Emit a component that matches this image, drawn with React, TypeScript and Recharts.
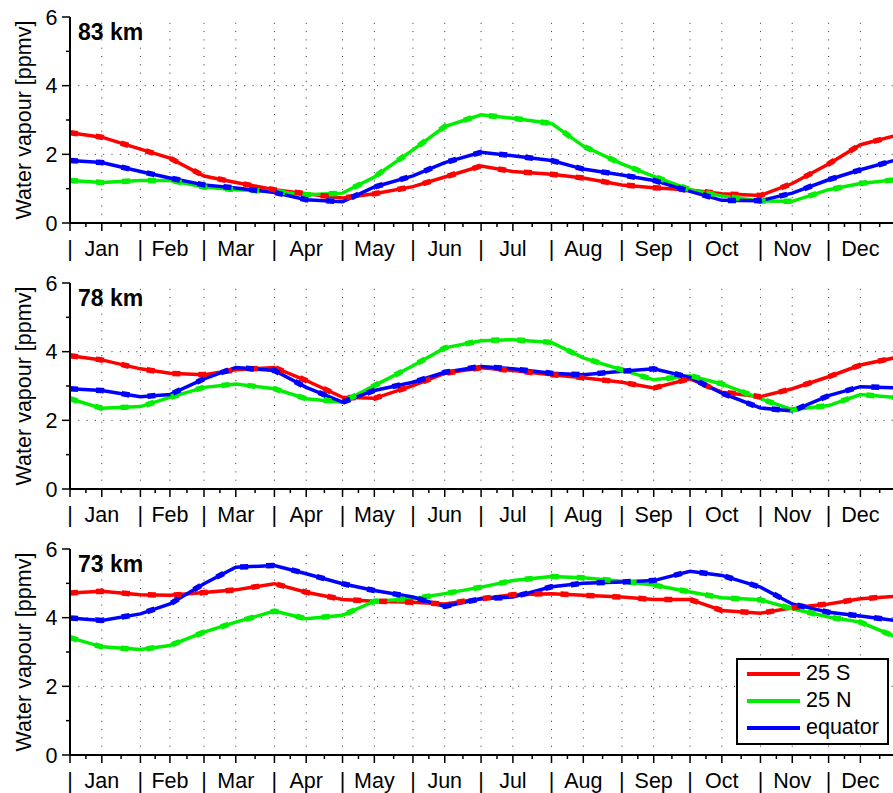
import { LineChart, Line, XAxis, YAxis, ReferenceLine, Legend } from 'recharts';

// day of year for each sample (month start and mid-month)
const DAYS = [0, 14, 31, 44, 59, 73, 90, 104, 120, 134, 151, 165, 181, 195, 212, 226, 243, 257, 273, 287, 304, 318, 334, 348, 365];
const MONTHS = ['Jan', 'Feb', 'Mar', 'Apr', 'May', 'Jun', 'Jul', 'Aug', 'Sep', 'Oct', 'Nov', 'Dec'];
const MONTH_START = [0, 31, 59, 90, 120, 151, 181, 212, 243, 273, 304, 334];
const MONTH_MID = [14, 44, 73, 104, 134, 165, 195, 226, 257, 287, 318, 348];
const Y_TICKS = [0, 1, 2, 3, 4, 5, 6];
const Y_GRID = [2, 4];

// 83 km
const S25_83 = [2.63, 2.5, 2.15, 1.89, 1.37, 1.18, 0.97, 0.85, 0.73, 0.85, 1.06, 1.34, 1.66, 1.5, 1.42, 1.31, 1.11, 1.03, 0.96, 0.85, 0.8, 1.15, 1.72, 2.28, 2.57];
const N25_83 = [1.24, 1.18, 1.24, 1.24, 1.05, 0.97, 0.92, 0.82, 0.87, 1.34, 2.13, 2.81, 3.15, 3.05, 2.9, 2.24, 1.72, 1.36, 0.97, 0.79, 0.64, 0.63, 0.97, 1.15, 1.27];
const EQ_83 = [1.82, 1.76, 1.5, 1.31, 1.11, 1.02, 0.89, 0.68, 0.62, 1.05, 1.37, 1.76, 2.06, 1.96, 1.82, 1.57, 1.4, 1.24, 0.92, 0.66, 0.65, 0.87, 1.26, 1.55, 1.86];

// 78 km
const S25_78 = [3.88, 3.76, 3.5, 3.37, 3.33, 3.47, 3.54, 3.16, 2.67, 2.64, 3.01, 3.37, 3.53, 3.45, 3.33, 3.24, 3.11, 2.94, 3.21, 2.82, 2.69, 2.92, 3.27, 3.61, 3.85];
const N25_78 = [2.63, 2.35, 2.4, 2.67, 2.96, 3.06, 2.92, 2.63, 2.53, 3.01, 3.59, 4.11, 4.32, 4.35, 4.27, 3.82, 3.47, 3.18, 3.3, 3.06, 2.63, 2.31, 2.43, 2.75, 2.66];
const EQ_78 = [2.92, 2.87, 2.69, 2.75, 3.21, 3.54, 3.45, 2.96, 2.53, 2.87, 3.11, 3.4, 3.57, 3.5, 3.37, 3.33, 3.43, 3.5, 3.25, 2.79, 2.36, 2.27, 2.72, 2.98, 2.94];

// 73 km
const S25_73 = [4.72, 4.77, 4.67, 4.65, 4.73, 4.81, 4.99, 4.74, 4.53, 4.48, 4.45, 4.4, 4.55, 4.67, 4.7, 4.65, 4.6, 4.53, 4.53, 4.21, 4.13, 4.29, 4.4, 4.55, 4.63];
const N25_73 = [3.42, 3.15, 3.07, 3.19, 3.58, 3.87, 4.19, 3.97, 4.07, 4.48, 4.55, 4.7, 4.89, 5.08, 5.2, 5.16, 5.06, 4.95, 4.75, 4.58, 4.52, 4.26, 4.02, 3.87, 3.4];
const EQ_73 = [3.99, 3.92, 4.11, 4.4, 4.99, 5.47, 5.52, 5.28, 4.99, 4.79, 4.6, 4.33, 4.55, 4.6, 4.9, 5.0, 5.04, 5.08, 5.35, 5.23, 4.89, 4.4, 4.16, 4.05, 3.9];

const FONT = '"Liberation Sans", Arial, Helvetica, sans-serif';
const FS = 21.5;

const MAJOR = [...MONTH_START, ...MONTH_MID, 365].sort((a, b) => a - b);
const MINOR = MAJOR.slice(1).map((d, i) => (d + MAJOR[i]) / 2);
const X_TICKS = [...MAJOR, ...MINOR].sort((a, b) => a - b);

const SERIES = [
  { key: 's', name: '25 S', color: '#ff0000' },
  { key: 'n', name: '25 N', color: '#00ee00' },
  { key: 'eq', name: 'equator', color: '#0000ff' },
];

const BottomTick = (props: any) => {
  const { x, y, payload } = props;
  const v = payload.value;
  const si = MONTH_START.indexOf(v);
  const mi = MONTH_MID.indexOf(v);
  const major = MAJOR.includes(v);
  return (
    <g>
      <line x1={x} x2={x} y1={y} y2={y + (major ? 8 : 4)} stroke="#000" strokeWidth={1.5} />
      {si >= 0 && (
        <text x={x} y={y + 33} textAnchor="middle" fontFamily={FONT} fontSize={FS} fill="#000">|</text>
      )}
      {mi >= 0 && (
        <text x={x} y={y + 33} textAnchor="middle" fontFamily={FONT} fontSize={FS} fill="#000">{MONTHS[mi]}</text>
      )}
    </g>
  );
};

const TopTick = (props: any) => {
  const { x, y, payload } = props;
  const major = MAJOR.includes(payload.value);
  return <line x1={x} x2={x} y1={y} y2={y - (major ? 8 : 4)} stroke="#000" strokeWidth={1.5} />;
};

const LeftTick = (props: any) => {
  const { x, y, payload } = props;
  const v = payload.value;
  const major = v % 2 === 0;
  return (
    <g>
      <line x1={x - (major ? 8 : 4)} x2={x} y1={y} y2={y} stroke="#000" strokeWidth={1.5} />
      {major && (
        <text x={x - 12.5} y={y} dy="0.36em" textAnchor="end" fontFamily={FONT} fontSize={FS} fill="#000">{v}</text>
      )}
    </g>
  );
};

const YLabel = (props: any) => {
  const vb = props.viewBox || { x: 0, y: 17, width: 70, height: 206 };
  const cx = vb.x + 31;
  const cy = vb.y + vb.height / 2;
  return (
    <text x={cx} y={cy} textAnchor="middle" transform={`rotate(-90, ${cx}, ${cy})`} fontFamily={FONT} fontSize={FS} fill="#000">
      Water vapour [ppmv]
    </text>
  );
};

const LegendBox = (props: any) => {
  const items = (props.payload || [])
    .filter((p: any) => p.type !== 'none')
    .sort((a: any, b: any) => SERIES.findIndex((s) => s.name === a.value) - SERIES.findIndex((s) => s.name === b.value));
  return (
    <div style={{ boxSizing: 'border-box', width: 153, height: 87, border: '2px solid #000', background: '#fff', padding: '0.5px 0 1.5px 9px', fontFamily: FONT, fontSize: FS }}>
      {items.map((p: any) => (
        <div key={p.value} style={{ display: 'flex', alignItems: 'center', height: 27 }}>
          <span style={{ display: 'inline-block', width: 53, height: 3.5, background: p.color, marginRight: 6 }} />
          <span style={{ lineHeight: 1 }}>{p.value}</span>
        </div>
      ))}
    </div>
  );
};

interface PanelProps {
  title: string;
  south: number[];
  north: number[];
  equator: number[];
  legend?: boolean;
}

const Panel = ({ title, south, north, equator, legend }: PanelProps) => {
  const data = DAYS.map((d, i) => ({ day: d, s: south[i], n: north[i], eq: equator[i] }));
  return (
    <div style={{ position: 'relative', width: 905, height: 266 }}>
      <LineChart width={905} height={266} data={data} margin={{ top: 17, right: 6, left: 0, bottom: 0 }} style={{ fontFamily: FONT }}>
        <XAxis
          dataKey="day"
          type="number"
          domain={[0, 365]}
          ticks={X_TICKS}
          interval={0}
          tickSize={0}
          tickMargin={0}
          tickLine={false}
          tick={<BottomTick />}
          height={43}
          axisLine={{ stroke: '#000', strokeWidth: 2 }}
        />
        <XAxis
          xAxisId="top"
          orientation="top"
          dataKey="day"
          type="number"
          domain={[0, 365]}
          ticks={X_TICKS}
          interval={0}
          tickSize={0}
          tickMargin={0}
          tickLine={false}
          tick={<TopTick />}
          height={0}
          axisLine={{ stroke: '#000', strokeWidth: 2 }}
        />
        <YAxis
          domain={[0, 6]}
          ticks={Y_TICKS}
          interval={0}
          width={70}
          tickSize={0}
          tickMargin={0}
          tickLine={false}
          tick={<LeftTick />}
          axisLine={{ stroke: '#000', strokeWidth: 2 }}
          label={<YLabel />}
        />
        {MAJOR.map((d) => (
          <ReferenceLine key={'x' + d} x={d} stroke="#333" strokeWidth={1} strokeDasharray="1 7.3" />
        ))}
        {Y_GRID.map((v) => (
          <ReferenceLine key={'y' + v} y={v} stroke="#333" strokeWidth={1} strokeDasharray="1 7.3" />
        ))}
        {SERIES.map((s) => (
          <Line key={s.key} type="linear" dataKey={s.key} name={s.name} stroke={s.color} strokeWidth={3.5} dot={false} activeDot={false} isAnimationActive={false} />
        ))}
        {SERIES.map((s) => (
          <Line key={s.key + '-d'} type="linear" dataKey={s.key} legendType="none" stroke={s.color} strokeWidth={5.5} strokeDasharray="8 18" dot={false} activeDot={false} isAnimationActive={false} />
        ))}
        {legend && (
          <Legend
            layout="vertical"
            align="center"
            verticalAlign="middle"
            content={<LegendBox />}
            wrapperStyle={{ left: 736, top: 126, right: 'auto', bottom: 'auto', width: 'auto', height: 'auto' }}
          />
        )}
      </LineChart>
      <div style={{ position: 'absolute', left: 78, top: 21, fontFamily: FONT, fontWeight: 'bold', fontSize: 23, lineHeight: '23px' }}>
        {title}
      </div>
    </div>
  );
}

export default function App() {
  return (
    <div style={{ position: 'absolute', left: 0, top: 0, width: 893, height: 793, overflow: 'hidden', background: '#fff' }}>
      <Panel title="83 km" south={S25_83} north={N25_83} equator={EQ_83} />
      <Panel title="78 km" south={S25_78} north={N25_78} equator={EQ_78} />
      <Panel title="73 km" south={S25_73} north={N25_73} equator={EQ_73} legend />
    </div>
  );
}
